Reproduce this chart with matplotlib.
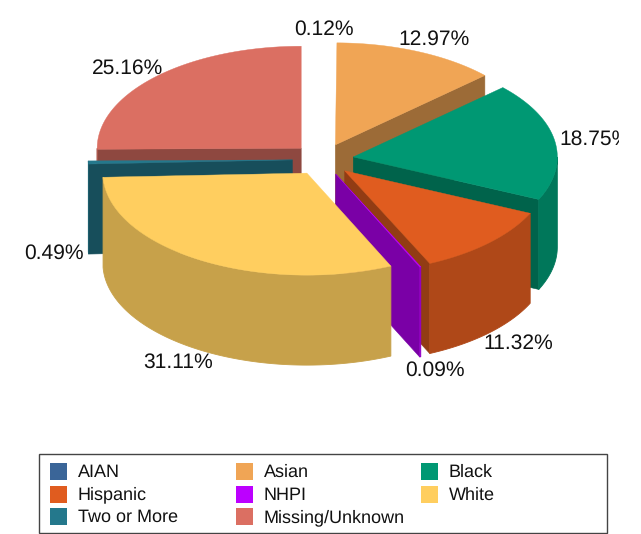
import numpy as np
import matplotlib
matplotlib.use('Agg')
import matplotlib.pyplot as plt
from matplotlib.colors import to_rgb
from matplotlib.patches import Polygon, Rectangle

plt.rcParams['font.family'] = ['Liberation Sans', 'DejaVu Sans']
plt.rcParams['text.hinting'] = 'no_hinting'

# Data
categories = ['AIAN', 'Asian', 'Black', 'Hispanic', 'NHPI', 'White', 'Two or More', 'Missing/Unknown']
values = [0.12, 12.97, 18.75, 11.32, 0.09, 31.11, 0.49, 25.16]
value_labels = ['0.12%', '12.97%', '18.75%', '11.32%', '0.09%', '31.11%', '0.49%', '25.16%']
colors = ['#3A6598', '#F0A555', '#009873', '#E05C1F', '#BC00FF', '#FFCE5F', '#24788C', '#DB6F62']

# Pie geometry, in pixels
CX, CY = 323.0, 159.5
RX, RY = 204, 102
EX, EY = 30.7, 16
DEPTH = 90

# label centres, in pixels
label_pos = [(324, 29), (434, 39), (595.5, 139), (518.5, 343), (434.5, 370), (178, 362), (53.5, 253), (127.5, 68)]

fig = plt.figure(figsize=(6.41, 5.34), dpi=100)
ax = fig.add_axes([0, 0, 1, 1])
ax.set_xlim(0, 641)
ax.set_ylim(534, 0)
ax.axis('off')


def shade(color, k):
    return tuple(c * k for c in to_rgb(color))


def slice_xy(theta, dx, dy):
    return dx + RX * np.sin(theta), dy - RY * np.cos(theta)


def draw_slice(i, start, end):
    mid = np.radians((start + end) / 2)
    dx = CX + EX * np.sin(mid)
    dy = CY - EY * np.cos(mid)
    t0, t1 = np.radians(start), np.radians(end)
    col = colors[i]

    # flat side faces, only the ones turned to the viewer
    for t, visible in ((t0, np.sin(t0) < 0), (t1, np.sin(t1) > 0)):
        if visible:
            x, y = slice_xy(t, dx, dy)
            pts = [(dx, dy), (x, y), (x, y + DEPTH), (dx, dy + DEPTH)]
            ax.add_patch(Polygon(pts, fc=shade(col, 0.65), ec=shade(col, 0.65), lw=0.4))

    # outer wall, front half of the ellipse only
    a = max(t0, np.pi / 2)
    b = min(t1, 3 * np.pi / 2)
    if b > a:
        tt = np.linspace(a, b, 120)
        x, y = slice_xy(tt, dx, dy)
        pts = np.r_[np.c_[x, y], np.c_[x, y + DEPTH][::-1]]
        ax.add_patch(Polygon(pts, fc=shade(col, 0.78), ec=shade(col, 0.78), lw=0.6))

    # top
    tt = np.linspace(t0, t1, 200)
    x, y = slice_xy(tt, dx, dy)
    pts = np.r_[[(dx, dy)], np.c_[x, y]]
    ax.add_patch(Polygon(pts, fc=col, ec=col, lw=0.3))


edges = np.cumsum([0] + values) / sum(values) * 360
# back to front; AIAN does not show in the picture, only its label does
for i in [7, 1, 6, 2, 3, 4, 5]:
    draw_slice(i, edges[i], edges[i + 1])

# labels get cut at the right side of the plot area
clip = Rectangle((0, 0), 619, 534, transform=ax.transData)
for lab, (x, y) in zip(value_labels, label_pos):
    t = ax.text(x, y, lab, fontsize=15.1, ha='center', va='center', color='#111111', clip_on=True)
    t.set_clip_path(clip)

# Legend
ax.add_patch(Rectangle((38.5, 454), 568.5, 79, fc='white', ec='#444444', lw=1))
col_x = [50, 235.5, 421]
row_y = [463, 485.5, 508]
for i, name in enumerate(categories):
    x = col_x[i % 3]
    y = row_y[i // 3]
    ax.add_patch(Rectangle((x, y), 17, 17, fc=colors[i], ec='none'))
    ax.text(x + 28, y + 9.5, name, fontsize=13, ha='left', va='center', color='#111111')

plt.savefig('out.png', dpi=100)
